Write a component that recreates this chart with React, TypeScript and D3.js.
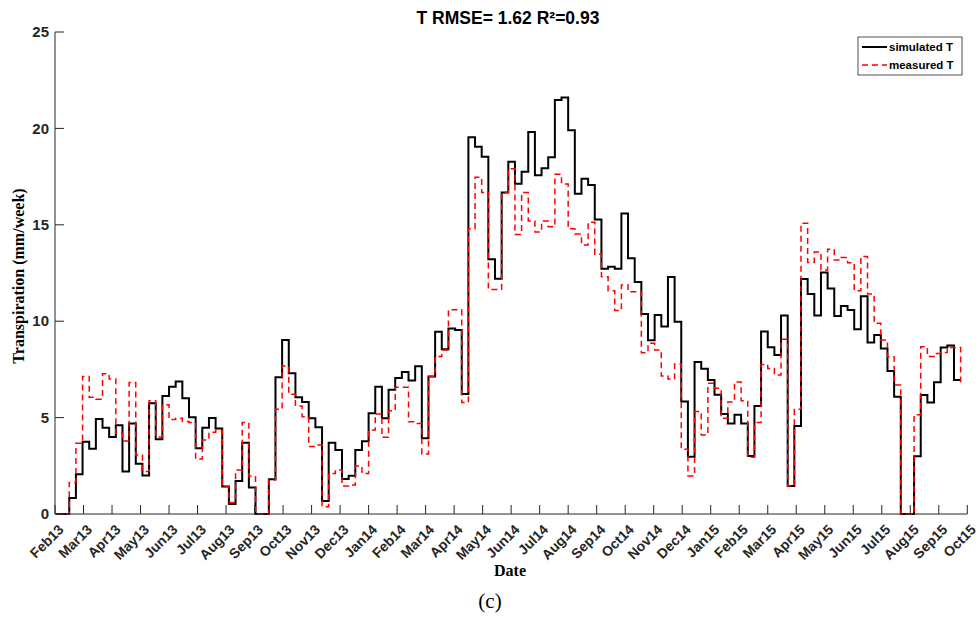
import React from "react";
import * as d3 from "d3";

// Month tick labels (one every 30 days from the start of the axis)
const monthLabels = [
  "Feb13","Mar13","Apr13","May13","Jun13","Jul13","Aug13","Sep13","Oct13","Nov13","Dec13",
  "Jan14","Feb14","Mar14","Apr14","May14","Jun14","Jul14","Aug14","Sep14","Oct14","Nov14","Dec14",
  "Jan15","Feb15","Mar15","Apr15","May15","Jun15","Jul15","Aug15","Sep15","Oct15",
];
const yTicks = [0, 5, 10, 15, 20, 25];

// Weekly transpiration (mm/week), first value starts at day 1, step of 7 days
const startDay = 1;
const stepDays = 7;

const simulatedT = [
  0, 0, 0.83, 2.06, 3.75, 3.39, 4.93, 4.48, 4.0, 4.6,
  2.21, 4.7, 2.61, 2.0, 5.74, 3.88, 6.12, 6.6, 6.87, 6.0,
  5.02, 3.41, 4.48, 4.98, 4.43, 1.42, 0.52, 1.71, 3.7, 1.38,
  0, 0, 1.8, 7.09, 9.03, 7.3, 6.06, 5.81, 4.97, 4.5,
  0.67, 3.7, 3.32, 1.82, 1.99, 3.32, 3.77, 5.22, 6.6, 4.97,
  6.44, 7.06, 7.37, 6.92, 7.66, 3.93, 7.13, 9.45, 8.55, 9.62,
  9.55, 6.23, 19.54, 19.05, 18.53, 13.21, 12.2, 16.67, 18.27, 17.13,
  17.75, 19.81, 17.57, 17.93, 18.5, 21.47, 21.6, 19.9, 16.61, 17.39,
  17.06, 15.28, 12.72, 12.83, 12.72, 15.58, 13.26, 12.03, 10.37, 9.01,
  10.32, 9.72, 12.29, 9.97, 5.84, 2.97, 7.88, 7.54, 6.95, 6.19,
  5.19, 4.7, 5.15, 4.7, 3.01, 5.6, 9.46, 8.65, 8.25, 10.3,
  1.45, 4.56, 12.19, 11.41, 10.3, 12.53, 11.69, 10.27, 10.79, 10.58,
  9.58, 11.29, 8.9, 9.28, 8.59, 7.42, 6.08, 0, 0, 3.0,
  6.17, 5.78, 6.84, 8.64, 8.74, 6.95, 6.95,
];

const measuredT = [
  0, 0, 1.64, 3.67, 7.13, 6.05, 5.95, 7.27, 7.0, 4.19,
  3.79, 6.82, 3.06, 2.2, 5.88, 4.0, 5.67, 4.9, 4.97, 4.8,
  4.75, 2.85, 3.84, 4.24, 4.33, 1.42, 0.6, 2.28, 4.74, 1.97,
  0, 0, 1.76, 5.43, 7.68, 6.21, 5.6, 5.05, 3.5, 3.58,
  0.38, 2.1, 2.28, 1.45, 1.5, 2.49, 2.1, 4.36, 5.19, 3.98,
  5.36, 6.57, 6.57, 4.79, 4.7, 3.11, 7.13, 8.17, 8.5, 10.6,
  10.6, 5.78, 14.8, 17.46, 16.67, 11.65, 11.65, 16.67, 17.91, 14.5,
  16.67, 15.2, 14.63, 15.2, 14.9, 17.62, 17.12, 14.8, 14.52, 13.95,
  15.13, 13.47, 12.31, 11.58, 10.55, 11.88, 11.53, 11.53, 8.37, 8.85,
  8.5, 7.16, 7.0, 7.78, 3.36, 1.97, 5.31, 4.1, 6.78, 6.52,
  4.96, 5.81, 6.85, 5.88, 2.94, 4.74, 7.76, 7.55, 7.21, 9.06,
  1.45, 5.43, 15.08, 13.05, 13.59, 12.66, 13.73, 13.17, 13.31, 13.03,
  11.58, 13.35, 11.41, 9.89, 9.02, 8.16, 6.69, 0, 0, 5.15,
  8.68, 8.17, 8.33, 8.38, 8.64, 8.64, 6.84,
];

const W = 978;
const H = 617;
const M = { left: 55, right: 967.3, top: 32, bottom: 514 };
const AX = "#262626";
const SANS = "'Liberation Sans', Arial, Helvetica, sans-serif";
const SERIF = "'Liberation Serif', 'Times New Roman', serif";

export default function App() {
  const monthDays = 30;
  const x = d3
    .scaleLinear()
    .domain([0, (monthLabels.length - 1) * monthDays])
    .range([M.left, M.right]);
  const y = d3.scaleLinear().domain([0, 25]).range([M.bottom, M.top]);

  const line = d3
    .line<number>()
    .x((_, i) => x(startDay + i * stepDays))
    .y((d) => y(d))
    .curve(d3.curveStepAfter);

  return (
    <svg
      width={W}
      height={H}
      style={{ position: "absolute", left: 0, top: 0, background: "#fff" }}
    >
      <rect x={0} y={0} width={W} height={H} fill="#fff" />
      {/* title */}
      <text
        x={508}
        y={24}
        textAnchor="middle"
        fontFamily={SANS}
        fontWeight="bold"
        fontSize={17.5}
        fill="#000"
      >
        T RMSE= 1.62 R²=0.93
      </text>

      {/* series */}
      <path d={line(simulatedT) || ""} fill="none" stroke="#000" strokeWidth={2} />
      <path
        d={line(measuredT) || ""}
        fill="none"
        stroke="#ff0000"
        strokeWidth={1.5}
        strokeDasharray="6,4"
      />

      {/* axes */}
      <line x1={M.left} x2={M.left} y1={M.top} y2={M.bottom} stroke={AX} strokeWidth={1} />
      <line x1={M.left} x2={M.right} y1={M.bottom} y2={M.bottom} stroke={AX} strokeWidth={1} />
      {yTicks.map((t) => (
        <g key={"y" + t}>
          <line x1={M.left} x2={M.left + 9} y1={y(t)} y2={y(t)} stroke={AX} strokeWidth={1} />
          <text
            x={M.left - 6}
            y={y(t)}
            dy="0.35em"
            textAnchor="end"
            fontFamily={SANS}
            fontWeight="bold"
            fontSize={15}
            fill={AX}
          >
            {t}
          </text>
        </g>
      ))}
      {monthLabels.map((lab, k) => {
        const px = x(k * monthDays);
        return (
          <g key={lab}>
            <line x1={px} x2={px} y1={M.bottom} y2={M.bottom - 9} stroke={AX} strokeWidth={1} />
            <text
              transform={`translate(${px + 6},${M.bottom + 13}) rotate(-45)`}
              textAnchor="end"
              dy="0.35em"
              fontFamily={SANS}
              fontWeight="bold"
              fontSize={14}
              fill={AX}
            >
              {lab}
            </text>
          </g>
        );
      })}

      {/* axis labels */}
      <text
        transform={`translate(24,${(M.top + M.bottom) / 2 + 3}) rotate(-90)`}
        textAnchor="middle"
        fontFamily={SERIF}
        fontWeight="bold"
        fontSize={16}
        fill="#000"
      >
        Transpiration (mm/week)
      </text>
      <text
        x={510}
        y={576}
        textAnchor="middle"
        fontFamily={SERIF}
        fontWeight="bold"
        fontSize={16}
        fill="#000"
      >
        Date
      </text>
      <text x={490} y={608} textAnchor="middle" fontFamily={SERIF} fontSize={21} fill="#000">
        (c)
      </text>

      {/* legend */}
      <rect x={858} y={37} width={104} height={38} fill="#fff" stroke={AX} strokeWidth={0.8} />
      <line x1={862} x2={887} y1={47} y2={47} stroke="#000" strokeWidth={2} />
      <text x={889} y={47} dy="0.35em" fontFamily={SANS} fontWeight="bold" fontSize={11.5} fill="#000">
        simulated T
      </text>
      <line
        x1={862}
        x2={887}
        y1={65}
        y2={65}
        stroke="#ff0000"
        strokeWidth={1.5}
        strokeDasharray="6,4"
      />
      <text x={889} y={65} dy="0.35em" fontFamily={SANS} fontWeight="bold" fontSize={11.5} fill="#000">
        measured T
      </text>
    </svg>
  );
}
